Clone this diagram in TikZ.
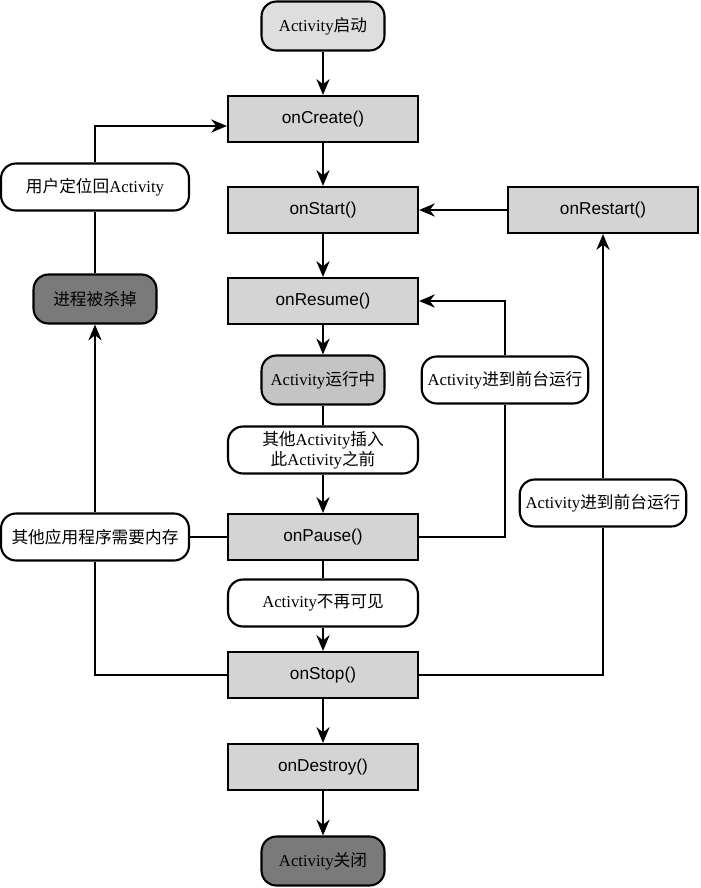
\documentclass[tikz,border=0pt]{standalone}
\usepackage{xcolor}
\usepackage{fontspec}
\setmainfont{Liberation Serif}
\setsansfont{Liberation Sans}
\newfontfamily\cjk{Noto Sans CJK SC}
\usepackage{tikz}
\usetikzlibrary{positioning, arrows.meta}
\definecolor{methodgray}{HTML}{D4D4D4}
\definecolor{startgray}{HTML}{DEDEDE}
\definecolor{rungray}{HTML}{C4C4C4}
\definecolor{killgray}{HTML}{7A7A7A}
\newcommand\zh[1]{{\cjk #1}}

\tikzset{
  method/.style={draw, line width=1.2pt, fill=methodgray,
                 minimum width=3.8cm, minimum height=0.92cm,
                 font=\sffamily\fontsize{9.8}{11}\selectfont},
  state/.style={draw, line width=1.2pt, rounded corners=0.3cm,
                minimum width=2.46cm, minimum height=0.98cm,
                font=\fontsize{9.5}{11}\selectfont},
  event/.style={draw, line width=1.2pt, fill=white, rounded corners=0.3cm,
                minimum height=0.94cm, align=center, inner ysep=2pt,
                font=\fontsize{9.5}{11.5}\selectfont},
  flow/.style={line width=1.2pt, -{Stealth[length=9pt, width=7.5pt]}},
  link/.style={line width=1.2pt}
}

\begin{document}
\begin{tikzpicture}[x=0.02cm, y=-0.02cm]
  \useasboundingbox (0,0) rectangle (700,888);

  % main column
  \node[state, fill=startgray] (launch) at (323,26) {Activity\zh{启动}};
  \node[method] (create) at (323,119) {onCreate()};
  \node[method] (start) at (323,210) {onStart()};
  \node[method] (resume) at (323,301) {onResume()};
  \node[state, fill=rungray] (running) at (323,380) {Activity\zh{运行中}};
  \node[event, minimum width=3.8cm] (cover) at (323,450)
    {\zh{其他}Activity\zh{插入}\\\zh{此}Activity\zh{之前}};
  \node[method] (pause) at (323,537) {onPause()};
  \node[event, minimum width=3.8cm] (hidden) at (323,603) {Activity\zh{不再可见}};
  \node[method] (stop) at (323,675) {onStop()};
  \node[method] (destroy) at (323,767) {onDestroy()};
  \node[state, fill=killgray] (closed) at (323,861) {Activity\zh{关闭}};

  % right side
  \node[method] (restart) at (603,210) {onRestart()};
  \node[event, minimum width=3.12cm] (front1) at (505,380) {Activity\zh{进到前台运行}};
  \node[event, minimum width=3.24cm] (front2) at (603,503) {Activity\zh{进到前台运行}};

  % left side
  \node[event, minimum width=3.76cm] (memory) at (95,537) {\zh{其他应用程序需要内存}};
  \node[state, fill=killgray] (killed) at (95,299) {\zh{进程被杀掉}};
  \node[event, minimum width=3.76cm] (back) at (95,187) {\zh{用户定位回}Activity};

  % connectors
  \draw[flow] (launch) -- (create);
  \draw[flow] (create) -- (start);
  \draw[flow] (start) -- (resume);
  \draw[flow] (resume) -- (running);
  \draw[link] (running) -- (cover);
  \draw[flow] (cover) -- (pause);
  \draw[link] (pause) -- (hidden);
  \draw[flow] (hidden) -- (stop);
  \draw[flow] (stop) -- (destroy);
  \draw[flow] (destroy) -- (closed);

  \draw[flow] (restart) -- (start);
  \draw[link] (pause.east) -| (front1);
  \draw[flow] (front1) |- (resume.east);
  \draw[link] (stop.east) -| (front2);
  \draw[flow] (front2) -- (restart);

  \draw[link] (pause) -- (memory);
  \draw[link] (stop.west) -| (memory);
  \draw[flow] (memory) -- (killed);
  \draw[link] (killed) -- (back);
  \draw[flow] (back) |- ([yshift=-4pt]create.west);
\end{tikzpicture}
\end{document}
